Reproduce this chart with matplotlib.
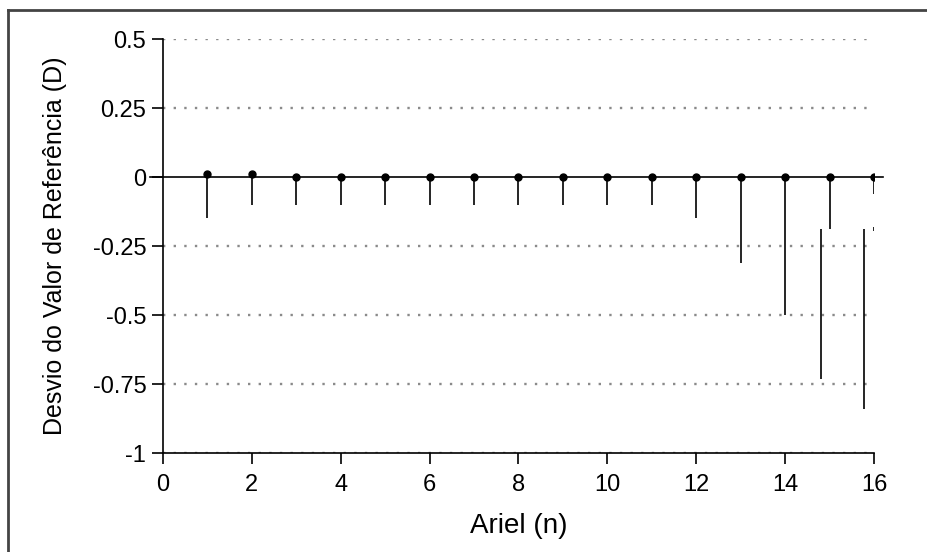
"""
Deviation from the reference value (D) per measurement, Ariel (n).
"""
import matplotlib.pyplot as plt
from matplotlib.lines import Line2D

# Measurements and their deviation from the reference value
MEASURE = [1, 2, 3, 4, 5, 6, 7, 8, 9, 10, 11, 12, 13, 14, 15, 16]
MEAN = [0.01, 0.01, 0, 0, 0, 0, 0, 0, 0, 0, 0, 0, 0, 0, 0, 0]
LOWER = [-0.15, -0.10, -0.10, -0.10, -0.10, -0.10, -0.10, -0.10,
         -0.10, -0.10, -0.10, -0.15, -0.31, -0.50, -0.19, -0.06]

# Extra vertical segments near the end of the series
EXTRA_X = [14.8, 15.78, 16.0]
EXTRA_TOP = [-0.19, -0.19, -0.18]
EXTRA_BOTTOM = [-0.73, -0.84, -0.195]

Y_TICKS = [-1, -0.75, -0.5, -0.25, 0, 0.25, 0.5]
Y_LABELS = ["-1", "-0.75", "-0.5", "-0.25", "0", "0.25", "0.5"]
X_TICKS = [0, 2, 4, 6, 8, 10, 12, 14, 16]


def main() -> None:
    plt.rcParams["font.family"] = ["Liberation Sans", "DejaVu Sans"]

    fig = plt.figure(figsize=(9.27, 5.52), dpi=100)
    ax = fig.add_axes([0.1758, 0.1793, 0.767, 0.75])

    # Dotted grid lines (not at zero)
    for y in Y_TICKS:
        if y == 0:
            continue
        ax.axhline(y, color="#8a8a8a", linestyle=(0, (1, 3.5)), linewidth=1.7,
                   zorder=1)
    ax.plot([-0.3, 16.2], [0, 0], color="black", linewidth=1.2, zorder=2,
            clip_on=False)

    # Error bars down from each point
    ax.vlines(MEASURE, LOWER, MEAN, color="black", linewidth=1.2, zorder=3)
    ax.plot(MEASURE, MEAN, "o", color="black", markersize=5, zorder=4)
    ax.vlines(EXTRA_X, EXTRA_BOTTOM, EXTRA_TOP, color="black", linewidth=1.2,
              zorder=3)

    ax.set_xlim(0, 16)
    ax.set_ylim(-1, 0.5)
    ax.set_xticks(X_TICKS)
    ax.set_yticks(Y_TICKS)
    ax.set_yticklabels(Y_LABELS)
    ax.tick_params(axis="both", direction="out", length=8, width=1.2,
                   labelsize=17)
    ax.tick_params(axis="x", pad=7)
    ax.tick_params(axis="y", pad=4)

    for side in ("top", "right"):
        ax.spines[side].set_visible(False)
    for side in ("left", "bottom"):
        ax.spines[side].set_linewidth(1.2)

    ax.set_xlabel("Ariel (n)", fontsize=20)
    ax.set_ylabel("Desvio do Valor de Referência (D)", fontsize=18)
    ax.xaxis.set_label_coords(0.5, -0.145)
    ax.yaxis.set_label_coords(-0.152, 0.5)
    ax.yaxis.label.set_verticalalignment("center")

    # Frame of the scanned figure: top and left edges
    fig.add_artist(Line2D([8 / 927, 1], [1 - 10 / 552] * 2,
                          transform=fig.transFigure, color="#444444",
                          linewidth=2))
    fig.add_artist(Line2D([8 / 927] * 2, [0, 1 - 10 / 552],
                          transform=fig.transFigure, color="#444444",
                          linewidth=2))

    fig.savefig("out.png", dpi=100)


if __name__ == "__main__":
    main()
